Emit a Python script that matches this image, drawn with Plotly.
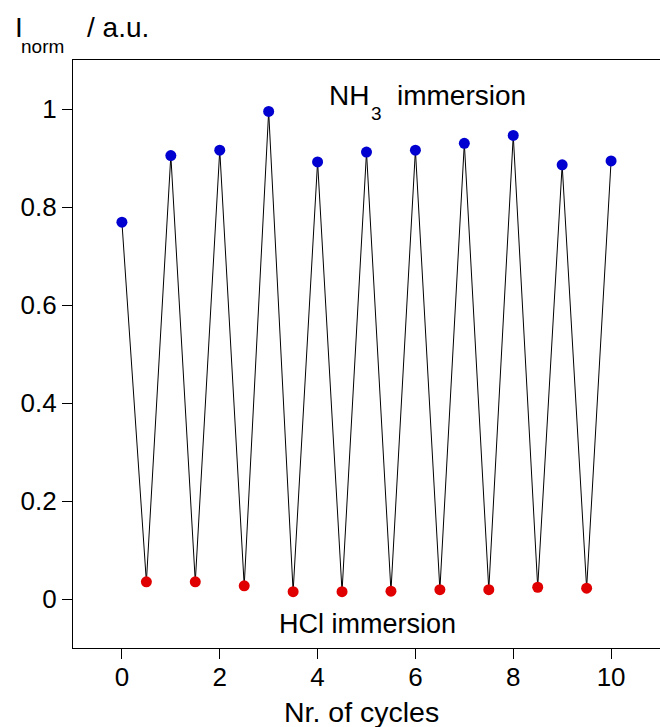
import plotly.graph_objects as go

# Data
nh3_cycles = [0, 1, 2, 3, 4, 5, 6, 7, 8, 9, 10]
nh3_values = [0.769, 0.905, 0.916, 0.995, 0.892, 0.912, 0.916, 0.930, 0.946, 0.886, 0.894]
hcl_cycles = [0.5, 1.5, 2.5, 3.5, 4.5, 5.5, 6.5, 7.5, 8.5, 9.5]
hcl_values = [0.035, 0.035, 0.027, 0.015, 0.015, 0.016, 0.019, 0.019, 0.024, 0.022]
y_ticks = [0, 0.2, 0.4, 0.6, 0.8, 1]
y_tick_labels = ["0", "0.2", "0.4", "0.6", "0.8", "1"]
x_ticks = [0, 2, 4, 6, 8, 10]

# combined zig-zag line
pts = sorted(zip(nh3_cycles + hcl_cycles, nh3_values + hcl_values))
line_x = [p[0] for p in pts]
line_y = [p[1] for p in pts]

FONT = "Liberation Sans, Arial, sans-serif"
W, H = 660, 727
L, R, T, B = 73, 0, 60, 79
PW, PH = W - L - R, H - T - B

def px(xp):
    return (xp - L) / PW

def py(yp):
    return (H - B - yp) / PH

fig = go.Figure()
fig.add_trace(go.Scatter(x=line_x, y=line_y, mode="lines",
                         line=dict(color="black", width=1), hoverinfo="skip"))
fig.add_trace(go.Scatter(x=nh3_cycles, y=nh3_values, mode="markers",
                         marker=dict(color="#0000d0", size=11, line=dict(width=0))))
fig.add_trace(go.Scatter(x=hcl_cycles, y=hcl_values, mode="markers",
                         marker=dict(color="#e00000", size=11, line=dict(width=0))))

annots = [
    ("I", 13, 28, 28, "left"),
    ("norm", 19, 47, 19, "left"),
    ("/ a.u.", 85, 28, 28, "left"),
    ("NH", 327, 95, 28, "left"),
    ("3", 369, 113, 19, "left"),
    ("immersion", 395, 95, 28, "left"),
    ("HCl immersion", 368, 624, 27, "center"),
    ("Nr. of cycles", 361, 712, 28.5, "center"),
]
for text, xp, yp, size, anchor in annots:
    fig.add_annotation(text=text, xref="paper", yref="paper", x=px(xp), y=py(yp),
                       xanchor=anchor, yanchor="middle", showarrow=False,
                       font=dict(size=size, color="black", family=FONT))

fig.update_layout(
    width=W, height=H,
    margin=dict(l=L, r=R, t=T, b=B),
    paper_bgcolor="white", plot_bgcolor="white",
    showlegend=False,
    font=dict(family=FONT, size=26, color="black"),
    xaxis=dict(range=[-1, 11], tickvals=x_ticks, ticks="outside", ticklen=10,
               tickcolor="black", showline=True, linecolor="black", linewidth=1.3,
               mirror=True, showgrid=False, zeroline=False,
               ticklabelstandoff=-4,
               tickfont=dict(size=26)),
    yaxis=dict(range=[-0.1, 1.1], tickvals=y_ticks, ticktext=y_tick_labels,
               ticks="outside", ticklen=10, tickcolor="black", showline=True,
               linecolor="black", linewidth=1.3, showgrid=False, zeroline=False,
               tickfont=dict(size=26)),
)

fig.write_html("out.html")
